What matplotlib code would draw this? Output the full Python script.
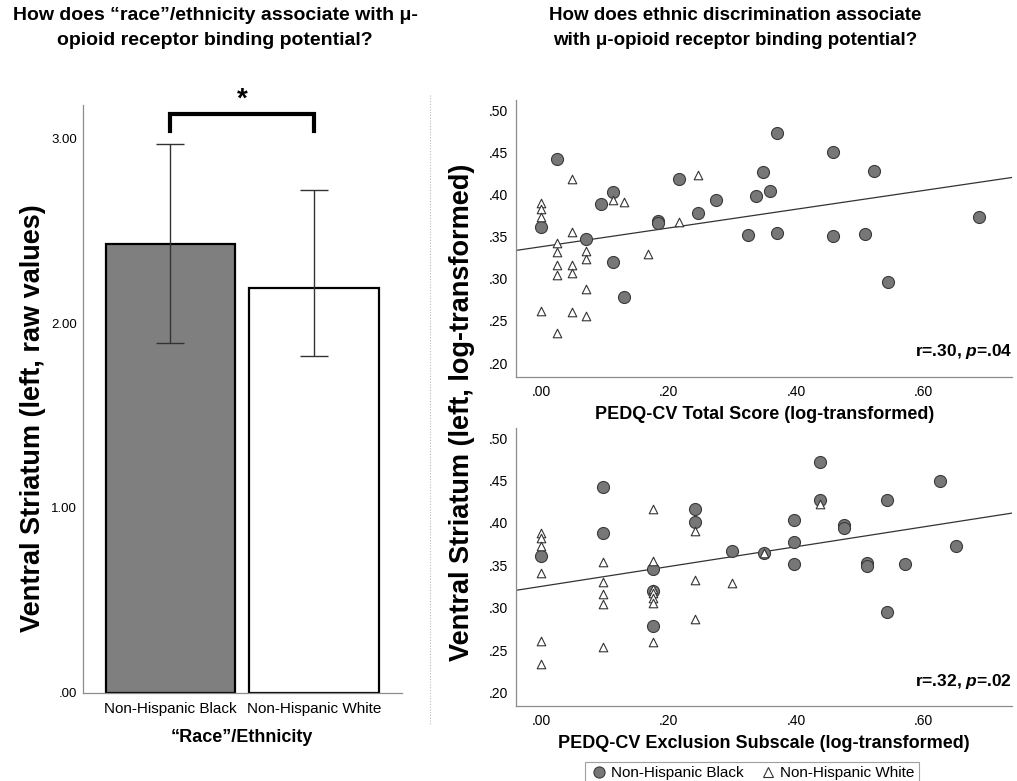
import numpy as np
import matplotlib
matplotlib.use("Agg")
from matplotlib import pyplot as plt
from matplotlib.lines import Line2D

plt.rcParams['font.family'] = ['Liberation Sans', 'DejaVu Sans']
plt.rcParams['mathtext.fontset'] = 'custom'
plt.rcParams['mathtext.bfit'] = 'Liberation Sans:italic:bold'

# bar chart data
groups = ['Non-Hispanic Black', 'Non-Hispanic White']
means = [2.43, 2.19]
err_lo = [1.89, 1.82]
err_hi = [2.97, 2.72]

# PEDQ-CV total score (log) vs VS BPND
tot_black_x = [0.000, 0.024, 0.070, 0.094, 0.112, 0.112, 0.130, 0.183, 0.183, 0.216, 0.246, 0.274,
               0.325, 0.337, 0.348, 0.359, 0.370, 0.370, 0.458, 0.458, 0.508, 0.522, 0.545, 0.687]
tot_black_y = [0.362, 0.442, 0.347, 0.389, 0.403, 0.320, 0.279, 0.368, 0.366, 0.418, 0.378, 0.394,
               0.352, 0.398, 0.427, 0.404, 0.473, 0.354, 0.450, 0.351, 0.353, 0.428, 0.296, 0.373]
tot_white_x = [0.000, 0.000, 0.000, 0.000, 0.024, 0.024, 0.024, 0.024, 0.024, 0.048, 0.048, 0.048,
               0.048, 0.048, 0.070, 0.070, 0.070, 0.070, 0.112, 0.130, 0.167, 0.216, 0.246]
tot_white_y = [0.390, 0.383, 0.373, 0.262, 0.342, 0.332, 0.316, 0.305, 0.236, 0.418, 0.356, 0.316,
               0.307, 0.261, 0.333, 0.324, 0.288, 0.256, 0.393, 0.391, 0.330, 0.367, 0.423]

# PEDQ-CV exclusion subscale (log) vs VS BPND
exc_black_x = [0.000, 0.096, 0.096, 0.176, 0.176, 0.176, 0.242, 0.242, 0.299, 0.350, 0.397, 0.397,
               0.397, 0.438, 0.438, 0.475, 0.475, 0.511, 0.511, 0.543, 0.543, 0.572, 0.627, 0.651]
exc_black_y = [0.361, 0.442, 0.388, 0.346, 0.320, 0.278, 0.416, 0.401, 0.367, 0.364, 0.403, 0.377,
               0.351, 0.472, 0.427, 0.398, 0.394, 0.353, 0.349, 0.427, 0.295, 0.352, 0.449, 0.373]
exc_white_x = [0.000, 0.000, 0.000, 0.000, 0.000, 0.000, 0.096, 0.096, 0.096, 0.096, 0.096, 0.176,
               0.176, 0.176, 0.176, 0.176, 0.176, 0.176, 0.242, 0.242, 0.242, 0.299, 0.350, 0.438]
exc_white_y = [0.388, 0.382, 0.373, 0.341, 0.261, 0.234, 0.354, 0.330, 0.316, 0.304, 0.254, 0.416,
               0.355, 0.322, 0.317, 0.312, 0.305, 0.259, 0.391, 0.333, 0.287, 0.329, 0.364, 0.422]

fig = plt.figure(figsize=(10.17, 7.81), dpi=100)

GRAY = '#7f7f7f'
SPINE = '#8c8c8c'

# ---- left: bar chart
ax = fig.add_axes([0.0813, 0.113, 0.3137, 0.7525])
xs = np.arange(len(groups))
ax.bar(xs, means, width=0.9, color=[GRAY, 'white'], edgecolor='black', linewidth=1.6, zorder=2)
yerr = [np.array(means) - np.array(err_lo), np.array(err_hi) - np.array(means)]
ax.errorbar(xs, means, yerr=yerr, fmt='none', ecolor='#333333', elinewidth=1.0, capsize=10,
            capthick=1.0, zorder=3)
ax.set_xlim(-0.61, 1.61)
ax.set_ylim(0, 3.18)
ax.set_yticks([0, 1, 2, 3])
ax.set_yticklabels(['.00', '1.00', '2.00', '3.00'], fontsize=9.5)
ax.set_xticks(xs)
ax.set_xticklabels(groups, fontsize=11)
ax.tick_params(axis='both', length=0, pad=4)
ax.tick_params(axis='x', pad=7)
for s in ['top', 'right']:
    ax.spines[s].set_visible(False)
for s in ['left', 'bottom']:
    ax.spines[s].set_color(SPINE)
    ax.spines[s].set_linewidth(0.9)
ax.set_xlabel('\u201cRace\u201d/Ethnicity', fontsize=13, fontweight='bold', labelpad=9)
fig.text(33 / 1017, 1 - 418 / 781, 'Ventral Striatum (left, raw values)', rotation=90,
         ha='center', va='center', fontsize=19.5, fontweight='bold')

# significance bracket
ax.plot([0, 0, 1, 1], [3.04, 3.13, 3.13, 3.04], color='black', lw=3, clip_on=False,
        solid_joinstyle='miter')
ax.text(0.5, 3.14, '*', ha='center', va='bottom', fontsize=20, fontweight='bold')

# ---- right: scatter plots
def scatter_panel(axs, bx, by, wx, wy, xlabel, stat):
    axs.scatter(bx, by, s=75, c='#777777', edgecolors='#3a3a3a', linewidths=0.8, zorder=3)
    axs.scatter(wx, wy, s=38, marker='^', facecolors='white', edgecolors='#333333',
                linewidths=0.8, zorder=4)
    allx = np.array(bx + wx)
    ally = np.array(by + wy)
    k, b = np.polyfit(allx, ally, 1)
    lx = np.array([-0.04, 0.74])
    axs.plot(lx, b + k * lx, color='#333333', lw=0.9, zorder=2)
    axs.set_xlim(-0.04, 0.74)
    axs.set_ylim(0.184, 0.512)
    axs.set_yticks([0.20, 0.25, 0.30, 0.35, 0.40, 0.45, 0.50])
    axs.set_yticklabels(['.20', '.25', '.30', '.35', '.40', '.45', '.50'], fontsize=10)
    axs.set_xticks([0, 0.2, 0.4, 0.6])
    axs.set_xticklabels(['.00', '.20', '.40', '.60'], fontsize=10)
    axs.tick_params(axis='both', length=0, pad=6)
    for s in ['top', 'right']:
        axs.spines[s].set_visible(False)
    for s in ['left', 'bottom']:
        axs.spines[s].set_color(SPINE)
        axs.spines[s].set_linewidth(0.9)
    axs.set_xlabel(xlabel, fontsize=13, fontweight='bold', labelpad=5)
    axs.text(1.0, 0.09, stat, transform=axs.transAxes, ha='right', va='center',
             fontsize=12.5, fontweight='bold')

ax1 = fig.add_axes([0.5074, 0.5177, 0.488, 0.3543])
scatter_panel(ax1, tot_black_x, tot_black_y, tot_white_x, tot_white_y,
              'PEDQ-CV Total Score (log-transformed)', r'r=.30, $\mathbfit{p}$=.04')
ax2 = fig.add_axes([0.5074, 0.096, 0.488, 0.356])
scatter_panel(ax2, exc_black_x, exc_black_y, exc_white_x, exc_white_y,
              'PEDQ-CV Exclusion Subscale (log-transformed)', r'r=.32, $\mathbfit{p}$=.02')

fig.text(462 / 1017, 1 - 412 / 781, 'Ventral Striatum (left, log-transformed)', rotation=90,
         ha='center', va='center', fontsize=19.5, fontweight='bold')

# titles
fig.text(215 / 1017, 1 - 28 / 781,
         'How does \u201crace\u201d/ethnicity associate with \u03bc-\nopioid receptor binding potential?',
         ha='center', va='center', fontsize=14, fontweight='bold', linespacing=1.55)
fig.text(735 / 1017, 1 - 28 / 781,
         'How does ethnic discrimination associate\nwith \u03bc-opioid receptor binding potential?',
         ha='center', va='center', fontsize=13.5, fontweight='bold', linespacing=1.6)

# dotted separator
fig.add_artist(Line2D([430 / 1017, 430 / 1017], [1 - 95 / 781, 1 - 725 / 781], color='#bbbbbb',
                      lw=0.8, linestyle=(0, (1, 1.5))))

# legend
handles = [Line2D([], [], marker='o', ls='none', markersize=8, markerfacecolor='#777777',
                  markeredgecolor='#3a3a3a', markeredgewidth=0.8),
           Line2D([], [], marker='^', ls='none', markersize=7, markerfacecolor='white',
                  markeredgecolor='#333333', markeredgewidth=0.8)]
leg = fig.legend(handles, groups, loc='upper center', bbox_to_anchor=(752 / 1017, 1 - 754 / 781),
                 ncol=2, fontsize=11, frameon=True, fancybox=False, handletextpad=0.2,
                 columnspacing=1.0, borderpad=0.3, handlelength=1.2)
leg.get_frame().set_edgecolor('#888888')
leg.get_frame().set_linewidth(0.8)

fig.savefig('out.png', dpi=100)
